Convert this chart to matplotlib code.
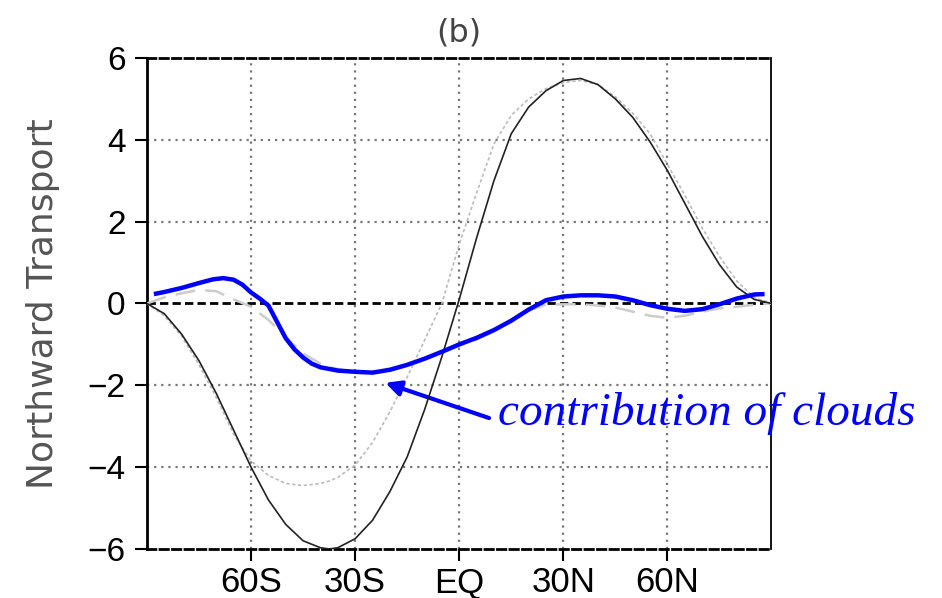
import matplotlib.pyplot as plt

# latitude grid (degrees, negative = south)
lat = [-90, -85, -80, -75, -70, -65, -60, -55, -50, -45, -40, -37.5, -35,
       -30, -25, -20, -15, -10, -5, 0, 5, 10, 15, 20, 25, 30, 35, 40, 45,
       50, 55, 60, 65, 70, 75, 80, 85, 90]

# total transport (thin black)
total = [0.0, -0.25, -0.75, -1.4, -2.2, -3.1, -4.0, -4.8, -5.4, -5.8, -5.97,
         -6.0, -5.97, -5.75, -5.3, -4.6, -3.75, -2.6, -1.3, 0.1, 1.6, 3.0,
         4.15, 4.8, 5.2, 5.45, 5.5, 5.35, 5.0, 4.55, 3.95, 3.25, 2.45, 1.65,
         0.95, 0.4, 0.1, 0.0]

# reference transport (light gray dotted)
total_ref = [0.0, -0.3, -0.8, -1.5, -2.3, -3.2, -3.85, -4.2, -4.4, -4.45,
             -4.4, -4.34, -4.25, -3.95, -3.4, -2.65, -1.8, -0.9, 0.0, 1.45,
             2.7, 3.9, 4.6, 5.0, 5.25, 5.4, 5.45, 5.35, 5.05, 4.65, 4.15,
             3.4, 2.65, 1.85, 1.15, 0.55, 0.15, 0.0]

# cloud term, reference (light gray long dashes)
cloud_ref = [0.0, 0.15, 0.25, 0.33, 0.3, 0.1, -0.08, -0.4, -0.82, -1.22,
             -1.47, -1.55, -1.6, -1.68, -1.7, -1.65, -1.52, -1.37, -1.2,
             -1.03, -0.88, -0.68, -0.43, -0.17, -0.03, -0.02, -0.02, -0.05,
             -0.1, -0.2, -0.3, -0.35, -0.3, -0.2, -0.12, -0.08, -0.03, 0.0]

# contribution of clouds (thick blue)
lat_cloud = [-88, -85, -80, -75, -71, -68, -65, -62.5, -60, -57.5, -55,
             -52.5, -50, -47.5, -45, -42.5, -40, -35, -30, -25, -20, -15,
             -10, -5, 0, 5, 10, 15, 20, 25, 30, 35, 40, 45, 50, 55, 60, 65,
             70, 75, 80, 85, 88]
cloud = [0.23, 0.28, 0.38, 0.5, 0.59, 0.62, 0.58, 0.46, 0.27, 0.12, -0.05,
         -0.45, -0.85, -1.12, -1.32, -1.47, -1.56, -1.64, -1.67, -1.69,
         -1.62, -1.5, -1.35, -1.18, -1.0, -0.84, -0.65, -0.42, -0.15, 0.08,
         0.17, 0.2, 0.2, 0.17, 0.08, -0.04, -0.13, -0.18, -0.14, -0.02,
         0.12, 0.22, 0.23]

xticks = [-60, -30, 0, 30, 60]
xticklabels = ['60S', '30S', 'EQ', '30N', '60N']
yticks = [-6, -4, -2, 0, 2, 4, 6]

fig = plt.figure(figsize=(9.42, 5.98), dpi=100)
ax = fig.add_axes([0.156, 0.082, 0.663, 0.821])

# grid
for x in xticks:
    ax.axvline(x, color='#777777', lw=1.6, ls=(0, (1, 2.2)), zorder=1)
for y in [-4, -2, 2, 4]:
    ax.axhline(y, color='#777777', lw=1.6, ls=(0, (1, 2.2)), zorder=1)
ax.axhline(0, color='black', lw=2, ls=(0, (3, 1.5)), zorder=2)

ax.plot(lat, total_ref, color='#bbbbbb', lw=1.2, ls=(0, (2, 1.5)), zorder=3)
ax.plot(lat, cloud_ref, color='#cccccc', lw=1.8, ls=(0, (8, 4)), zorder=3)
ax.plot(lat, total, color='#222222', lw=1.2, zorder=4)
ax.plot(lat_cloud, cloud, color='#0000ff', lw=3.2, zorder=5,
        solid_capstyle='butt', solid_joinstyle='round')

ax.set_xlim(-90, 90)
ax.set_ylim(-6, 6)
ax.set_xticks(xticks)
ax.set_xticklabels(xticklabels, family=['Liberation Sans', 'DejaVu Sans'],
                   fontsize=25)
ax.set_yticks(yticks)
ax.set_yticklabels([str(v).replace('-', '\u2212') for v in yticks],
                   fontsize=24, family=['Liberation Sans', 'DejaVu Sans'])
ax.tick_params(axis='both', direction='out', length=8.5, width=1.5,
               color='black')
ax.tick_params(axis='y', pad=7)
ax.tick_params(axis='x', pad=4)

for side in ['top', 'bottom']:
    ax.spines[side].set_linestyle((0, (3, 1.5)))
    ax.spines[side].set_linewidth(2)
ax.spines['left'].set_linewidth(2)
ax.spines['right'].set_linewidth(1.3)

ax.set_ylabel('Northward Transport', fontsize=26, color='#555555',
              labelpad=20)
ax.set_title('(b)', fontsize=23, color='#444444', pad=12)

ax.annotate('', xy=(-21.3, -1.94), xytext=(8.6, -2.8),
            arrowprops=dict(arrowstyle='-|>,head_length=0.9,head_width=0.45',
                            color='#0000ff', lw=3, shrinkA=0, shrinkB=0))
fig.text(0.529, 0.289, 'contribution of clouds', color='#0000ff',
         fontsize=34, family='Liberation Serif', style='italic',
         va='baseline', ha='left')

fig.savefig('out.png', dpi=100)
